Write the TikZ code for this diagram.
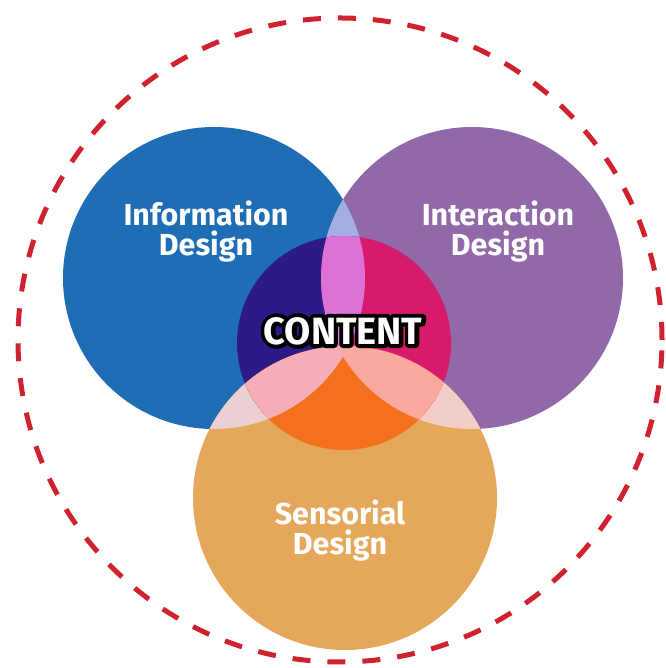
\documentclass[tikz,border=0pt]{standalone}
\usepackage{fontspec}
\setmainfont{Fira Sans}
\definecolor{infoblue}{HTML}{1F6EB5}
\definecolor{interpurple}{HTML}{9169A9}
\definecolor{sensorange}{HTML}{E5A85B}
\definecolor{dashred}{HTML}{D0212E}
\definecolor{lensblue}{HTML}{A3AEE4}
\definecolor{lensleft}{HTML}{EBD0D3}
\definecolor{lensright}{HTML}{F2CEC6}
\definecolor{contindigo}{HTML}{2E1A87}
\definecolor{contmagenta}{HTML}{D71B6C}
\definecolor{contorange}{HTML}{F4701F}
\definecolor{contorchid}{HTML}{DC72D6}
\definecolor{contpink}{HTML}{F5AEB7}
\definecolor{contsalmon}{HTML}{F9A99D}
% white letters with a black outline
\newcommand{\outlined}[1]{\rlap{\special{pdf:code 1 Tr 0 G 4 w 1 j}#1\special{pdf:code 0 Tr 1 G 0.4 w 0 j}}#1}

\begin{document}
\begin{tikzpicture}[x=0.5pt,y=0.5pt,
    label/.style={text=white,align=center,font=\bfseries\fontsize{15.2}{15}\selectfont},
    content/.style={text=white,font=\bfseries\fontsize{19}{20}\selectfont}]
  \useasboundingbox (0,0) rectangle (665,668);
  \def\circinfo{(214,390) circle (151)}
  \def\circinter{(472,390) circle (151)}
  \def\circsens{(345,170) circle (152)}
  \def\circcont{(344,325) circle (107)}

  % outer ring
  \draw[dashred,line width=2.5pt,dash pattern=on 9pt off 8.5pt] (340,328) circle (322);

  % the three design fields
  \fill[infoblue] \circinfo;
  \fill[interpurple] \circinter;
  \fill[sensorange] \circsens;

  % overlaps outside the content
  \begin{scope}
    \clip \circinfo;
    \fill[lensblue] \circinter;
    \fill[lensleft] \circsens;
  \end{scope}
  \begin{scope}
    \clip \circinter;
    \fill[lensright] \circsens;
  \end{scope}

  % content circle
  \begin{scope}
    \clip \circcont;
    \fill[contindigo] \circinfo;
    \fill[contmagenta] \circinter;
    \fill[contorange] \circsens;
    \begin{scope}
      \clip \circinfo;
      \fill[contorchid] \circinter;
      \fill[contpink] \circsens;
    \end{scope}
    \begin{scope}
      \clip \circinter;
      \fill[contsalmon] \circsens;
    \end{scope}
  \end{scope}

  \node[label] (info) at (206,436) {Information\\Design};
  \node[label] (inter) at (498,436) {Interaction\\Design};
  \node[label] (sens) at (340,137) {Sensorial\\Design};
  \node[content] (cont) at (343,337) {\outlined{CONTENT}};
\end{tikzpicture}
\end{document}
